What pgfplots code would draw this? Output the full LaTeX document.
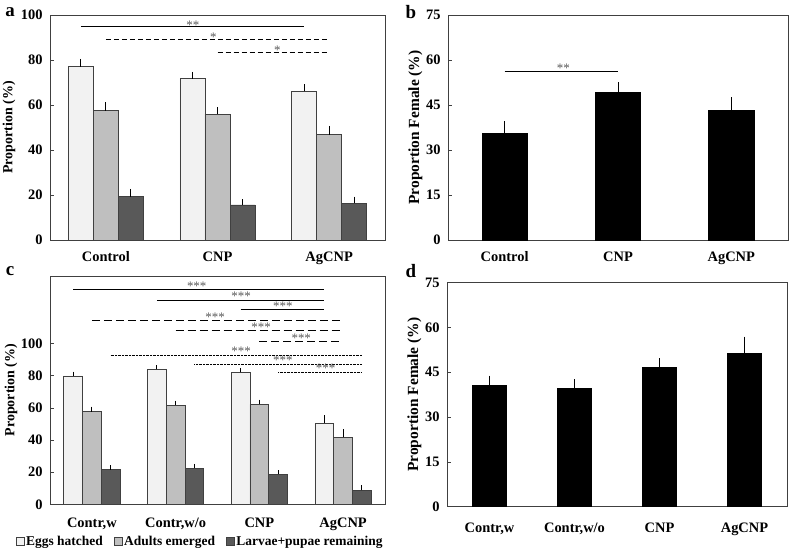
\documentclass[border=0pt]{standalone}
\usepackage{fontspec}
\setmainfont{Liberation Serif}
\usepackage{pgfplots}
\pgfplotsset{compat=1.18}
\definecolor{cE}{HTML}{F2F2F2}
\definecolor{cA}{HTML}{BFBFBF}
\definecolor{cL}{HTML}{595959}
\definecolor{frm}{HTML}{404040}
\newcommand\tf{\bfseries\fontsize{14.5}{16}\selectfont}
\newcommand\lf{\bfseries\fontsize{13.5}{16}\selectfont}
\tikzset{star/.style={font=\fontsize{13}{14}\selectfont, black!65}}
\pgfplotsset{
  panel/.style={scale only axis, anchor=south west,
    axis line style={frm, line width=0.8pt},
    ytick pos=left, tick align=inside, major tick length=4bp,
    ytick style={frm, line width=0.8pt}, xtick style={draw=none},
    /pgf/number format/assume math mode=true,
    ticklabel style={font=\tf},
    yticklabel style={xshift=-4bp},
    label style={font=\bfseries\fontsize{14}{16}\selectfont},
    ymin=0, ybar},
  eb/.style={error bars/y dir=plus, error bars/y explicit,
    error bars/error bar style={black, line width=0.8pt},
    error bars/error mark options={black, line width=0.8pt, mark size=2bp}},
  barE/.style={fill=cE, draw=frm, line width=0.6pt, eb},
  barA/.style={fill=cA, draw=frm, line width=0.6pt, eb},
  barL/.style={fill=cL, draw=frm, line width=0.6pt, eb},
  barK/.style={fill=black, draw=black, line width=0.6pt, eb},
}
\begin{document}
\begin{tikzpicture}
\useasboundingbox (0,0) rectangle (794bp,-557bp);
\node[font=\bfseries\fontsize{19}{20}\selectfont] at (10bp,-12bp) {a};
\node[font=\bfseries\fontsize{19}{20}\selectfont] at (411bp,-12bp) {b};
\node[font=\bfseries\fontsize{19}{20}\selectfont] at (10bp,-271bp) {c};
\node[font=\bfseries\fontsize{19}{20}\selectfont] at (411bp,-271bp) {d};

% ---------- panel a
\begin{axis}[panel, at={(50bp,-240bp)}, width=335bp, height=225bp,
  xmin=-0.5, xmax=2.5, ymax=100, ytick={0,20,...,100},
  xtick={0,1,2}, xticklabels={Control,CNP,AgCNP},
  xticklabel style={yshift=-4bp},
  ylabel={Proportion (\%)}, ylabel style={at={(axis description cs:-0.122,0.5)}, anchor=center},
  bar width=0.224]
\addplot[barE, bar shift=-0.224] coordinates {(0,77.0) +- (0,2.6) (1,71.7) +- (0,2.1) (2,66.1) +- (0,2.3)};
\addplot[barA, bar shift=0] coordinates {(0,57.5) +- (0,2.8) (1,56.0) +- (0,2.2) (2,46.8) +- (0,3.0)};
\addplot[barL, bar shift=0.224] coordinates {(0,19.3) +- (0,2.5) (1,15.6) +- (0,1.7) (2,16.3) +- (0,2.1)};
\draw[black, line width=1pt] (axis cs:-0.224,94.8) -- (axis cs:1.776,94.8);
\draw[black, line width=1pt, dash pattern=on 5bp off 3bp] (axis cs:0,89.0) -- (axis cs:2,89.0);
\draw[black, line width=1pt, dash pattern=on 5bp off 3bp] (axis cs:1,83.4) -- (axis cs:2,83.4);
\node[star] at (axis cs:0.78,95.6) {**};
\node[star] at (axis cs:0.962,90.1) {*};
\node[star] at (axis cs:1.536,84.5) {*};
\end{axis}

% ---------- panel b
\begin{axis}[panel, at={(448bp,-240bp)}, width=340bp, height=225bp,
  xmin=-0.5, xmax=2.5, ymax=75, ytick={0,15,...,75},
  xtick={0,1,2}, xticklabels={Control,CNP,AgCNP},
  xticklabel style={yshift=-4bp},
  ylabel={Proportion Female (\%)}, ylabel style={font=\bfseries\fontsize{15.5}{17}\selectfont, at={(axis description cs:-0.096,0.5)}, anchor=center},
  bar width=0.4]
\addplot[barK, bar shift=0] coordinates {(0,35.6) +- (0,3.3) (1,49.2) +- (0,2.7) (2,43.3) +- (0,3.7)};
\draw[black, line width=1pt] (axis cs:0,56.1) -- (axis cs:1,56.1);
\node[star] at (axis cs:0.518,57.2) {**};
\end{axis}

% ---------- panel c
\begin{axis}[panel, at={(50bp,-504.3bp)}, width=335bp, height=228.3bp,
  xmin=-0.5, xmax=3.5, ymax=142.2, ytick={0,20,...,100},
  xtick={0,1,2,3}, xticklabels={{Contr,w},{Contr,w/o},CNP,AgCNP},
  xticklabel style={yshift=-6bp},
  ylabel={Proportion (\%)}, ylabel style={at={(axis description cs:-0.116,0.5)}, anchor=center},
  bar width=0.224,
  legend style={at={(axis description cs:0.448,-0.164)}, anchor=center, draw=none, fill=none,
    font=\lf, legend columns=3, inner sep=0pt,
    /tikz/every even column/.append style={column sep=9bp}},
  legend image code/.code={\draw[#1, draw=frm, line width=0.5pt] (0bp,-3.5bp) rectangle (8bp,4.5bp);}]
\addplot[barE, bar shift=-0.224] coordinates {(0,80.0) +- (0,1.4) (1,84.1) +- (0,1.3) (2,82.2) +- (0,1.3) (3,50.5) +- (0,3.7)};
\addplot[barA, bar shift=0] coordinates {(0,57.7) +- (0,1.9) (1,61.7) +- (0,1.6) (2,62.3) +- (0,1.7) (3,41.7) +- (0,3.8)};
\addplot[barL, bar shift=0.224] coordinates {(0,21.6) +- (0,1.5) (1,22.4) +- (0,1.5) (2,18.7) +- (0,1.4) (3,8.7) +- (0,1.9)};
\legend{Eggs hatched, Adults emerged, Larvae+pupae remaining}
\draw[black, line width=1pt] (axis cs:-0.224,133.7) -- (axis cs:2.776,133.7);
\draw[black, line width=1pt] (axis cs:0.776,127.1) -- (axis cs:2.776,127.1);
\draw[black, line width=1pt] (axis cs:1.776,121.3) -- (axis cs:2.776,121.3);
\draw[black, line width=1pt, dash pattern=on 8bp off 4bp] (axis cs:0,114.2) -- (axis cs:3,114.2);
\draw[black, line width=1pt, dash pattern=on 8bp off 4bp] (axis cs:1,108.0) -- (axis cs:3,108.0);
\draw[black, line width=1pt, dash pattern=on 8bp off 4bp] (axis cs:2,101.7) -- (axis cs:3,101.7);
\draw[black, line width=0.8pt, dash pattern=on 0.7bp off 0.7bp] (axis cs:0.224,93.0) -- (axis cs:3.224,93.0);
\draw[black, line width=0.8pt, dash pattern=on 0.7bp off 0.7bp] (axis cs:1.224,87.2) -- (axis cs:3.224,87.2);
\draw[black, line width=0.8pt, dash pattern=on 0.7bp off 0.7bp] (axis cs:2.224,82.0) -- (axis cs:3.224,82.0);
\node[star] at (axis cs:1.252,136.0) {***};
\node[star] at (axis cs:1.783,129.4) {***};
\node[star] at (axis cs:2.28,123.6) {***};
\node[star] at (axis cs:1.472,116.7) {***};
\node[star] at (axis cs:2.02,110.1) {***};
\node[star] at (axis cs:2.5,103.6) {***};
\node[star] at (axis cs:1.783,95.1) {***};
\node[star] at (axis cs:2.28,89.9) {***};
\node[star] at (axis cs:2.79,84.5) {***};
\end{axis}

% ---------- panel d
\begin{axis}[panel, at={(447bp,-506.7bp)}, width=340bp, height=224bp,
  xmin=-0.5, xmax=3.5, ymax=75, ytick={0,15,...,75},
  xtick={0,1,2,3}, xticklabels={{Contr,w},{Contr,w/o},CNP,AgCNP},
  xticklabel style={yshift=-9bp},
  ylabel={Proportion Female (\%)}, ylabel style={font=\bfseries\fontsize{15.5}{17}\selectfont, at={(axis description cs:-0.096,0.5)}, anchor=center},
  bar width=0.4]
\addplot[barK, bar shift=0] coordinates {(0,40.6) +- (0,2.6) (1,39.7) +- (0,2.3) (2,46.7) +- (0,2.4) (3,51.2) +- (0,5.1)};
\end{axis}
\end{tikzpicture}
\end{document}
